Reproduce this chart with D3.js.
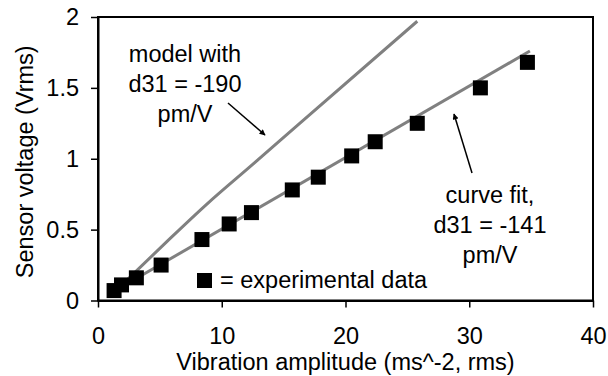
<!DOCTYPE html>
<html>
<head>
<meta charset="utf-8">
<script src="https://cdn.jsdelivr.net/npm/d3@7"></script>
<style>
  html, body { margin: 0; padding: 0; background: #fff; }
  svg { display: block; font-family: "Liberation Sans", Arial, sans-serif; }
</style>
</head>
<body>
<div id="chart"></div>
<script>
// measured data (vibration amplitude vs sensor voltage)
const ampData = [1.3, 1.9, 3.1, 5.1, 8.4, 10.6, 12.4, 15.7, 17.8, 20.5, 22.4, 25.8, 30.9, 34.7]
const voltData = [0.07, 0.11, 0.16, 0.25, 0.43, 0.54, 0.62, 0.78, 0.87, 1.02, 1.12, 1.25, 1.50, 1.68]

// curve fit (d31 = -141 pm/V)
const fitX = [1.2, 34.9]
const fitY = [0.06, 1.76]

// model (d31 = -190 pm/V)
const modelX = [2.4, 5.5, 8.8, 12.5, 16.3, 25.8]
const modelY = [0.15, 0.41, 0.68, 0.96, 1.25, 1.97]

const xTicks = [0, 10, 20, 30, 40]
const yTicks = [0, 0.5, 1, 1.5, 2]

const width = 608
const height = 376
const margin = { top: 17, right: 15, bottom: 75.5, left: 98 }
const fontSize = 23.5

const svg = d3.select("#chart")
  .append("svg")
  .attr("width", width)
  .attr("height", height)

svg.append("defs").append("marker")
  .attr("id", "arrow")
  .attr("viewBox", "0 0 10 10")
  .attr("refX", 9)
  .attr("refY", 5)
  .attr("markerWidth", 8)
  .attr("markerHeight", 6)
  .attr("markerUnits", "userSpaceOnUse")
  .attr("orient", "auto")
  .append("path")
    .attr("d", "M0,0 L10,5 L0,10 z")
    .attr("fill", "#000")

const x = d3.scaleLinear().domain([0, 40]).range([margin.left, width - margin.right])
const y = d3.scaleLinear().domain([0, 2]).range([height - margin.bottom, margin.top])

const line = d3.line().x(d => x(d[0])).y(d => y(d[1]))

// plot frame
svg.append("rect")
  .attr("x", x(0))
  .attr("y", y(2))
  .attr("width", x(40) - x(0))
  .attr("height", y(0) - y(2))
  .attr("fill", "none")
  .attr("stroke", "#000")
  .attr("stroke-width", 2)

// lines
svg.append("path")
  .attr("d", line.curve(d3.curveMonotoneX)(modelX.map((v, i) => [v, modelY[i]])))
  .attr("fill", "none")
  .attr("stroke", "#808080")
  .attr("stroke-width", 3)

svg.append("path")
  .attr("d", line.curve(d3.curveLinear)(fitX.map((v, i) => [v, fitY[i]])))
  .attr("fill", "none")
  .attr("stroke", "#808080")
  .attr("stroke-width", 3)

// squares
const sq = 15
svg.append("g")
  .selectAll("rect.pt")
  .data(ampData.map((v, i) => [v, voltData[i]]))
  .enter()
    .append("rect")
      .attr("class", "pt")
      .attr("x", d => x(d[0]) - sq / 2)
      .attr("y", d => y(d[1]) - sq / 2)
      .attr("width", sq)
      .attr("height", sq)
      .attr("fill", "#000")

// axes
const xAxis = svg.append("g")
  .attr("transform", `translate(0,${y(0)})`)
  .call(d3.axisBottom(x).tickValues(xTicks).tickSize(7).tickPadding(20).tickSizeOuter(0))
const yAxis = svg.append("g")
  .attr("transform", `translate(${x(0)},0)`)
  .call(d3.axisLeft(y).tickValues(yTicks).tickSize(7).tickPadding(12).tickSizeOuter(0).tickFormat(d3.format("")))

;[xAxis, yAxis].forEach(g => {
  g.select(".domain").attr("stroke", "#000").attr("stroke-width", 2)
  g.selectAll(".tick line").attr("stroke", "#000").attr("stroke-width", 1.5)
  g.selectAll(".tick text")
    .attr("fill", "#000")
    .style("font-size", fontSize + "px")
    .style("font-family", '"Liberation Sans", Arial, sans-serif')
})

// axis titles
svg.append("text")
  .attr("x", (x(0) + x(40)) / 2)
  .attr("y", 370)
  .attr("text-anchor", "middle")
  .style("font-size", fontSize + "px")
  .text("Vibration amplitude (ms^-2, rms)")

svg.append("text")
  .attr("transform", `translate(33,${(y(0) + y(2)) / 2 + 3}) rotate(-90)`)
  .attr("text-anchor", "middle")
  .style("font-size", fontSize + "px")
  .text("Sensor voltage (Vrms)")

// annotations
const notes = [
  { cx: 185, lines: ["model with", "d31 = -190", "pm/V"], y0: 62 },
  { cx: 490, lines: ["curve fit,", "d31 = -141", "pm/V"], y0: 203 }
]
notes.forEach(n => {
  svg.append("g").selectAll("text")
    .data(n.lines)
    .enter()
      .append("text")
        .attr("x", n.cx)
        .attr("y", (d, i) => n.y0 + i * 30)
        .attr("text-anchor", "middle")
        .style("font-size", fontSize + "px")
        .text(d => d)
})

const arrows = [
  [[228, 103], [265, 135]],
  [[472, 173], [454, 114]]
]
arrows.forEach(a => {
  svg.append("path")
    .attr("d", d3.line()(a))
    .attr("stroke", "#000")
    .attr("stroke-width", 1.5)
    .attr("fill", "none")
    .attr("marker-end", "url(#arrow)")
})

// legend
svg.append("rect")
  .attr("x", 197)
  .attr("y", 273)
  .attr("width", sq)
  .attr("height", sq)
  .attr("fill", "#000")
svg.append("text")
  .attr("x", 220)
  .attr("y", 288)
  .style("font-size", fontSize + "px")
  .text("= experimental data")
</script>
</body>
</html>
